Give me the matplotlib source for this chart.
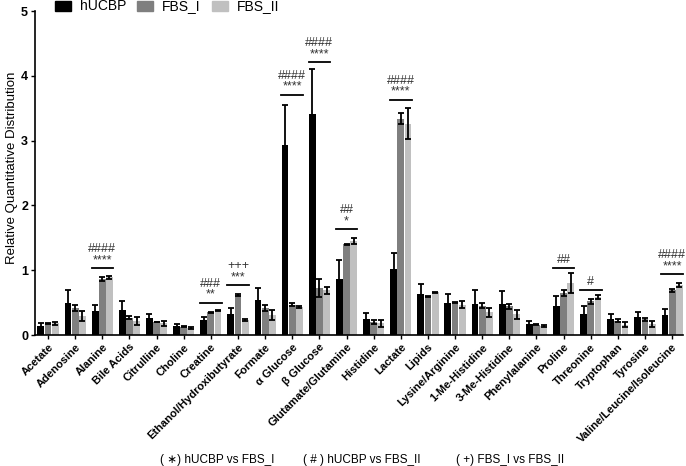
import matplotlib
matplotlib.use("Agg")
import matplotlib.pyplot as plt
import numpy as np
from matplotlib.patches import Rectangle

plt.rcParams['font.family'] = ['Liberation Sans', 'DejaVu Sans']

categories = ["Acetate", "Adenosine", "Alanine", "Bile Acids", "Citrulline", "Choline",
              "Creatine", "Ethanol/Hydroxibutyrate", "Formate", "α Glucose", "β Glucose",
              "Glutamate/Glutamine", "Histidine", "Lactate", "Lipids", "Lysine/Arginine",
              "1-Me-Histidine", "3-Me-Histidine", "Phenylalanine", "Proline", "Threonine",
              "Tryptophan", "Tyrosine", "Valine/Leucine/Isoleucine"]

hucbp = [0.14, 0.49, 0.37, 0.38, 0.26, 0.14, 0.23, 0.32, 0.54, 2.93, 3.41, 0.86,
         0.24, 1.02, 0.63, 0.50, 0.48, 0.48, 0.17, 0.45, 0.33, 0.25, 0.28, 0.31]
hucbp_err = [0.04, 0.20, 0.10, 0.15, 0.06, 0.03, 0.05, 0.10, 0.19, 0.62, 0.70, 0.29,
             0.10, 0.24, 0.16, 0.14, 0.22, 0.20, 0.05, 0.15, 0.12, 0.08, 0.08, 0.09]
fbs1 = [0.18, 0.42, 0.87, 0.27, 0.20, 0.13, 0.35, 0.62, 0.42, 0.47, 0.73, 1.40,
        0.20, 3.34, 0.59, 0.50, 0.45, 0.44, 0.16, 0.65, 0.52, 0.22, 0.24, 0.69]
fbs1_err = [0.01, 0.05, 0.03, 0.02, 0.005, 0.005, 0.01, 0.02, 0.05, 0.02, 0.14, 0.01,
            0.03, 0.08, 0.01, 0.01, 0.04, 0.04, 0.01, 0.05, 0.04, 0.02, 0.02, 0.02]
fbs2 = [0.18, 0.29, 0.89, 0.22, 0.18, 0.11, 0.38, 0.23, 0.31, 0.43, 0.69, 1.45,
        0.18, 3.26, 0.66, 0.47, 0.35, 0.32, 0.14, 0.80, 0.58, 0.16, 0.17, 0.77]
fbs2_err = [0.02, 0.08, 0.02, 0.06, 0.04, 0.01, 0.01, 0.01, 0.08, 0.01, 0.05, 0.05,
            0.05, 0.24, 0.01, 0.06, 0.07, 0.07, 0.02, 0.15, 0.03, 0.04, 0.04, 0.03]

# significance annotations: (category index, line height, lower text, upper text)
sig_idx = [2, 6, 7, 9, 10, 11, 13, 19, 20, 23]
sig_line = [1.03, 0.50, 0.77, 3.71, 4.21, 1.63, 3.63, 1.04, 0.69, 0.94]
sig_low = ["****", "**", "***", "****", "****", "*", "****", "##", "#", "****"]
sig_high = ["####", "###", "+++", "####", "####", "##", "####", "", "", "####"]

series_names = ["hUCBP", "FBS_I", "FBS_II"]
colors = ["#000000", "#7f7f7f", "#c0c0c0"]

fig = plt.figure(figsize=(6.86, 4.66), dpi=100)
ax = fig.add_axes([35/686, 1 - 335/466, 648/686, 324/466])

x = np.arange(len(categories))
w = 0.265
data = [(hucbp, hucbp_err), (fbs1, fbs1_err), (fbs2, fbs2_err)]
for i, (vals, errs) in enumerate(data):
    ax.bar(x + (i - 1) * w, vals, width=w * 0.95, color=colors[i],
           yerr=errs, error_kw=dict(ecolor="black", elinewidth=1.3, capsize=2, capthick=1.3))

for idx, yl, lo, hi in zip(sig_idx, sig_line, sig_low, sig_high):
    x0 = idx - 1.5 * w
    x1 = idx + 1.5 * w
    ax.plot([x0, x1], [yl, yl], color="black", lw=1.3, clip_on=False)
    ax.text(idx, yl + 0.03, lo, ha="center", va="bottom", fontsize=9, color="#333333")
    if hi:
        ax.text(idx, yl + 0.2, hi, ha="center", va="bottom", fontsize=9, color="#333333")

ax.set_xlim(-0.48, 23.4)
ax.set_ylim(0, 5)
ax.set_yticks([0, 1, 2, 3, 4, 5])
ax.set_yticklabels(["0", "1", "2", "3", "4", "5"], fontweight="bold", fontsize=9)
ax.set_xticks(x)
ax.set_xticklabels(categories, rotation=45, ha="right", rotation_mode="anchor",
                   fontweight="bold", fontsize=8)
ax.tick_params(axis="both", direction="out", length=3, width=1, pad=2)
ax.spines["top"].set_visible(False)
ax.spines["right"].set_visible(False)
ax.spines["left"].set_linewidth(1.2)
ax.spines["bottom"].set_linewidth(1.2)
fig.text(12/686, 1 - 168/466, "Relative Quantitative Distribution", rotation=90,
         ha="center", va="center", fontsize=9.5)

# legend drawn manually across the top
leg_x = [55, 137, 212]
for lx, c, n in zip(leg_x, colors, series_names):
    fig.patches.append(Rectangle((lx/686, 1 - 11/466), 16/686, 10/466, color=c,
                                 transform=fig.transFigure, figure=fig))
    fig.text((lx + 25)/686, 1 - 6/466, n, ha="left", va="center", fontsize=10)

fig.text(217/686, 1 - 460/466, "( ∗) hUCBP vs FBS_I", ha="center", va="center", fontsize=8.5)
fig.text(362/686, 1 - 460/466, "( # ) hUCBP vs FBS_II", ha="center", va="center", fontsize=8.5)
fig.text(510/686, 1 - 460/466, "( +) FBS_I vs FBS_II", ha="center", va="center", fontsize=8.5)

fig.savefig("out.png", dpi=100)
